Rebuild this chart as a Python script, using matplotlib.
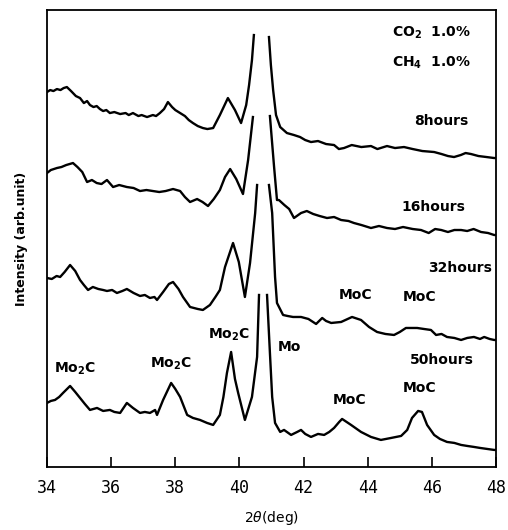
import numpy as np
import matplotlib
matplotlib.use("Agg")
import matplotlib.pyplot as plt

nan = np.nan

# 2-theta (deg) and intensity (arb. units); NaN marks the off-scale top of the Mo peak
x_8h = [34.00, 34.10, 34.20, 34.31, 34.42, 34.52, 34.62, 34.75, 34.90, 35.03, 35.15, 35.25, 35.34, 35.45, 35.55, 35.65,
        35.75, 35.85, 35.96, 36.10, 36.28, 36.45, 36.55, 36.68, 36.85, 36.95, 37.12, 37.30, 37.40, 37.52, 37.65, 37.77,
        37.90, 38.00, 38.15, 38.30, 38.42, 38.55, 38.70, 38.86, 39.00, 39.18, 39.39, 39.64, 39.86, 40.05, 40.21, 40.30,
        40.39, 40.45, 40.70, 40.92, 40.98, 41.05, 41.14, 41.27, 41.48, 41.70, 41.89, 42.05, 42.23, 42.45, 42.70, 42.95,
        43.10, 43.26, 43.50, 43.80, 44.10, 44.30, 44.60, 44.85, 45.13, 45.40, 45.70, 46.07, 46.30, 46.50, 46.69, 46.90,
        47.05, 47.22, 47.45, 47.70, 47.94, 48.00]
y_8h = [375, 377, 376, 378, 377, 379, 380, 376, 371, 369, 364, 366, 362, 360, 361, 358,
        356, 357, 354, 355, 353, 354, 352, 354, 351, 352, 350, 352, 351, 354, 358, 365,
        360, 357, 354, 351, 347, 344, 341, 339, 338, 339, 352, 369, 357, 344, 362, 382,
        407, 432, nan, 430, 402, 377, 352, 340, 334, 332, 330, 327, 325, 326, 323, 322,
        318, 319, 322, 320, 321, 318, 321, 319, 320, 318, 316, 315, 313, 311, 310, 312,
        314, 313, 311, 310, 309, 309]

x_16h = [34.00, 34.12, 34.31, 34.45, 34.60, 34.81, 34.95, 35.10, 35.25, 35.40, 35.55, 35.70, 35.87, 36.06, 36.25, 36.49,
         36.70, 36.90, 37.10, 37.30, 37.50, 37.70, 37.93, 38.15, 38.30, 38.46, 38.68, 38.85, 39.02, 39.20, 39.39, 39.55,
         39.71, 39.90, 40.11, 40.27, 40.42, 40.70, 40.95, 41.08, 41.17, 41.23, 41.40, 41.55, 41.70, 41.92, 42.10, 42.30,
         42.50, 42.73, 42.95, 43.17, 43.40, 43.57, 43.80, 44.10, 44.35, 44.60, 44.85, 45.10, 45.40, 45.66, 45.90, 46.10,
         46.29, 46.50, 46.70, 46.91, 47.10, 47.30, 47.53, 47.75, 47.94, 48.00]
y_16h = [294, 297, 299, 300, 302, 304, 300, 295, 285, 287, 284, 283, 287, 280, 282, 280,
         279, 276, 277, 276, 275, 276, 278, 276, 270, 265, 268, 265, 261, 268, 277, 290,
         298, 288, 273, 307, 350, nan, 351, 300, 267, 267, 262, 258, 249, 254, 256, 253,
         251, 249, 250, 247, 246, 244, 242, 239, 241, 239, 238, 240, 238, 237, 234, 238,
         237, 235, 237, 237, 236, 238, 235, 234, 232, 232]

x_32h = [34.00, 34.15, 34.30, 34.41, 34.55, 34.72, 34.88, 35.03, 35.15, 35.28, 35.43, 35.60, 35.75, 35.87, 36.03, 36.18,
         36.35, 36.49, 36.70, 36.90, 37.05, 37.21, 37.35, 37.43, 37.62, 37.80, 37.93, 38.10, 38.24, 38.46, 38.70, 38.86,
         39.08, 39.25, 39.39, 39.55, 39.80, 39.98, 40.17, 40.33, 40.49, 40.55, 40.75, 40.92, 41.02, 41.11, 41.17, 41.36,
         41.50, 41.67, 41.92, 42.15, 42.39, 42.58, 42.70, 42.86, 43.17, 43.51, 43.79, 44.04, 44.29, 44.55, 44.82, 45.00,
         45.19, 45.54, 45.75, 45.97, 46.13, 46.30, 46.47, 46.70, 46.91, 47.10, 47.31, 47.50, 47.63, 47.80, 47.94, 48.00]
y_32h = [189, 188, 191, 190, 195, 202, 196, 187, 182, 177, 180, 178, 177, 176, 177, 174,
         176, 178, 174, 171, 172, 169, 170, 167, 175, 183, 185, 178, 170, 160, 158, 157,
         162, 170, 177, 200, 224, 205, 170, 204, 254, 282, nan, 282, 254, 190, 164, 152,
         151, 150, 150, 148, 143, 149, 146, 144, 145, 150, 147, 140, 135, 133, 132, 135,
         139, 139, 138, 137, 132, 133, 130, 129, 127, 129, 130, 128, 130, 128, 127, 127]

x_50h = [34.00, 34.12, 34.25, 34.38, 34.50, 34.72, 34.88, 35.03, 35.18, 35.34, 35.56, 35.75, 35.96, 36.10, 36.28, 36.49,
         36.68, 36.90, 37.05, 37.21, 37.37, 37.43, 37.62, 37.87, 38.00, 38.15, 38.37, 38.55, 38.77, 38.99, 39.18, 39.39,
         39.50, 39.61, 39.74, 39.86, 39.96, 40.17, 40.39, 40.55, 40.61, 40.75, 40.86, 40.95, 41.02, 41.11, 41.27, 41.39,
         41.61, 41.80, 41.92, 42.05, 42.23, 42.45, 42.64, 42.80, 42.95, 43.11, 43.20, 43.48, 43.79, 44.10, 44.41, 44.73,
         45.04, 45.23, 45.38, 45.57, 45.69, 45.85, 46.07, 46.25, 46.47, 46.70, 46.91, 47.10, 47.31, 47.50, 47.72, 47.94,
         48.00]
y_50h = [64, 66, 67, 70, 74, 81, 75, 69, 63, 57, 59, 56, 57, 55, 54, 64,
         59, 54, 55, 54, 57, 52, 67, 84, 78, 70, 52, 49, 47, 44, 42, 52,
         70, 94, 115, 88, 74, 47, 70, 110, 172, nan, 172, 114, 70, 44, 35, 37,
         32, 35, 37, 33, 30, 33, 32, 35, 39, 45, 48, 42, 35, 30, 27, 29,
         31, 37, 49, 56, 55, 42, 32, 28, 25, 24, 22, 21, 20, 19, 18, 17,
         17]

fig = plt.figure(figsize=(5.08, 5.30), dpi=100)
ax = fig.add_axes([0.0925, 0.119, 0.884, 0.862])

for xs, ys in [(x_8h, y_8h), (x_16h, y_16h), (x_32h, y_32h), (x_50h, y_50h)]:
    ax.plot(xs, ys, color="black", lw=1.7, solid_joinstyle="round")

ax.set_xlim(34, 48)
ax.set_ylim(0, 457)
ax.set_xticks(range(34, 49, 2))
ax.set_xticklabels([str(v) for v in range(34, 49, 2)], fontsize=12, family="DejaVu Sans Mono")
ax.set_yticks([])
ax.tick_params(axis="x", direction="in", length=7, width=1.2, pad=9)
for s in ax.spines.values():
    s.set_linewidth(1.3)

ax.set_xlabel(r"$2\theta$(deg)", fontsize=10, labelpad=8)
ax.set_ylabel("Intensity (arb.unit)", fontsize=9, fontweight="bold", labelpad=14)

tk = dict(fontsize=10, fontweight="bold", ha="center", va="center")
ax.text(46.0, 434, r"CO$_\mathbf{2}$  1.0%", **tk)
ax.text(46.0, 404, r"CH$_\mathbf{4}$  1.0%", **tk)
ax.text(46.29, 346, "8hours", **tk)
ax.text(46.04, 260, "16hours", **tk)
ax.text(46.88, 199, "32hours", **tk)
ax.text(46.32, 107, "50hours", **tk)
ax.text(43.63, 172, "MoC", **tk)
ax.text(45.60, 170, "MoC", **tk)
ax.text(43.42, 67, "MoC", **tk)
ax.text(45.63, 79, "MoC", **tk)
ax.text(41.55, 120, "Mo", **tk)
ax.text(34.87, 98, r"Mo$_\mathbf{2}$C", **tk)
ax.text(37.87, 103, r"Mo$_\mathbf{2}$C", **tk)
ax.text(39.68, 132, r"Mo$_\mathbf{2}$C", **tk)

fig.savefig("out.png", dpi=100)
